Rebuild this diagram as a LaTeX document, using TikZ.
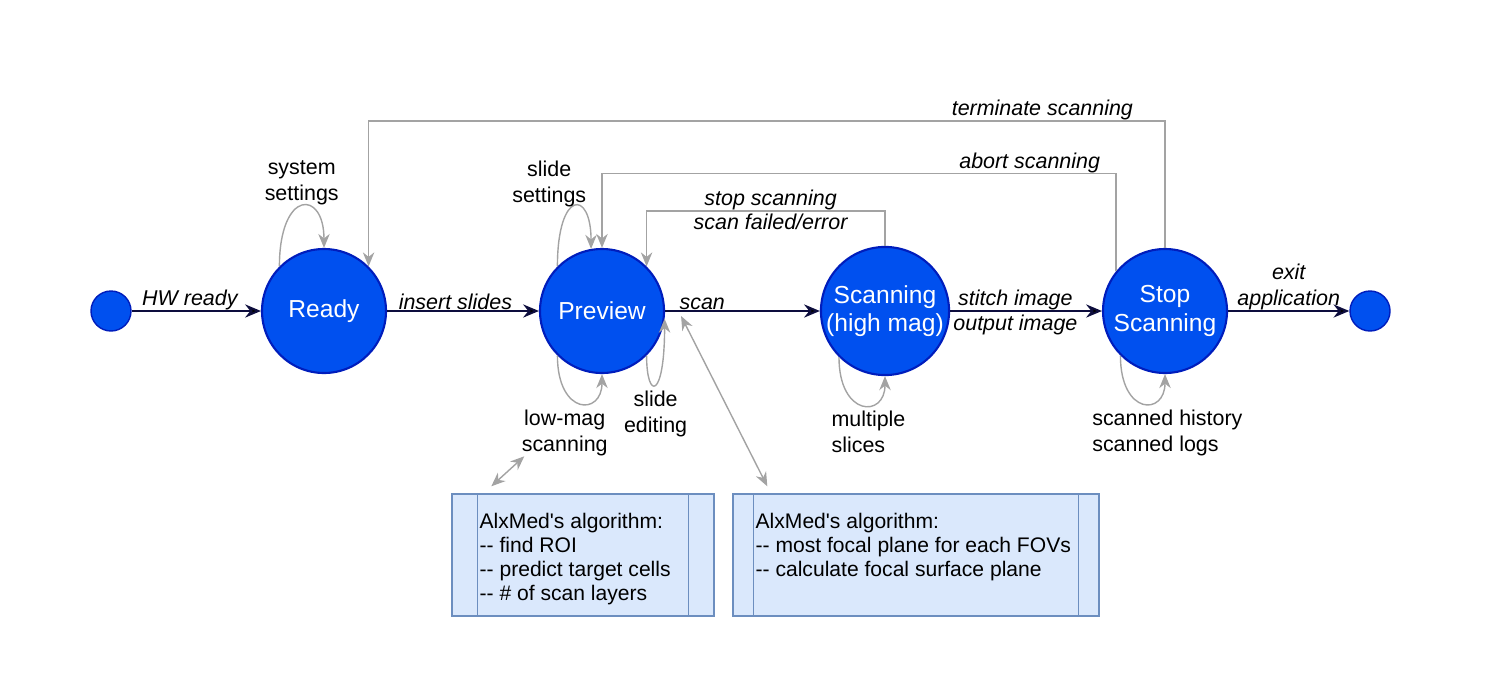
\documentclass[tikz,border=0pt]{standalone}
\usepackage{fontspec}
\setmainfont{Liberation Sans}
\usetikzlibrary{arrows.meta,automata,positioning}

\definecolor{stfill}{HTML}{0050EF}
\definecolor{stline}{HTML}{001DBC}
\definecolor{navy}{HTML}{0D0D3D}
\definecolor{loopgray}{HTML}{A3A3A3}
\definecolor{algfill}{HTML}{DAE8FC}
\definecolor{algline}{HTML}{6C8EBF}

\tikzset{
  trans/.style={draw=navy, line width=1.1pt, -{Stealth[length=9pt,width=7.5pt]}},
  back/.style={draw=loopgray, line width=0.8pt, -{Stealth[length=8pt,width=6.5pt]}},
  both/.style={draw=loopgray, line width=0.8pt, {Stealth[length=8pt,width=6.5pt]}-{Stealth[length=8pt,width=6.5pt]}},
  lbl/.style={font=\fontsize{12.2}{14.7}\selectfont\itshape, align=center, inner sep=1.5pt},
  abv/.style={above=-1.5pt},
  note/.style={font=\fontsize{12.2}{14.7}\selectfont, align=center},
  algbox/.style={rectangle, draw=algline, fill=algfill, line width=0.8pt, minimum height=2.44cm},
  alg/.style={font=\fontsize{12}{13.6}\selectfont, align=left, inner sep=0pt, anchor=north west}
}

\begin{document}
\begin{tikzpicture}[node distance=5.6cm,on grid]
  \tikzstyle{every state}=[fill=stfill, draw=stline, line width=1.2pt, minimum size=2.48cm,
                           inner sep=0pt, text=white, align=center, font=\fontsize{14}{16.2}\selectfont]
  \useasboundingbox (0,0) rectangle (30.12,-13.74);

  \node[state]                  (ready) at (6.48,-6.22)          {Ready};
  \node[state,minimum size=0.8cm,line width=0.8pt] (start) [left=4.26cm of ready] {};
  \node[state]                  (preview)  [right=5.56cm of ready]   {Preview};
  \node[state]                  (scanning) [right=5.66cm of preview] {Scanning\\(high mag)};
  \node[state]                  (stop)     [right=5.6cm of scanning] {Stop\\Scanning};
  \node[state,minimum size=0.8cm,line width=0.8pt] (end)   [right=4.1cm of stop] {};

  \node[algbox, minimum width=5.24cm] (box1) at (11.66,-11.10) {};
  \node[algbox, minimum width=7.32cm] (box2) at (18.32,-11.10) {};
  \foreach \b/\d in {box1/0.52, box2/0.42}{
    \draw[draw=algline, line width=0.8pt]
      ([xshift=\d cm]\b.north west) -- ([xshift=\d cm]\b.south west)
      ([xshift=-\d cm]\b.north east) -- ([xshift=-\d cm]\b.south east);
  }
  \node[alg] (alg1) at ([shift={(0.56,-0.40)}]box1.north west)
    {AlxMed\textquotesingle s algorithm:\\-{}- find ROI\\-{}- predict target cells\\-{}- \# of scan layers};
  \node[alg] (alg2) at ([shift={(0.46,-0.40)}]box2.north west)
    {AlxMed\textquotesingle s algorithm:\\-{}- most focal plane for each FOVs\\-{}- calculate focal surface plane};

  % main flow
  \path[trans]
  (start)    edge node[lbl,abv,pos=.45] {HW ready} (ready)
  (ready)    edge node[lbl,abv,pos=.45] {insert slides} (preview)
  (preview)  edge node[lbl,abv,pos=.24] {scan} (scanning)
  (scanning) edge node[lbl,abv,pos=.43] {stitch image} node[lbl,below,pos=.43] {output image} (stop)
  (stop)     edge node[lbl,abv] {exit\\application} (end);

  % going back
  \draw[back] (stop.north) -- ++(0,2.54) -| node[lbl,abv,pos=.077] {terminate scanning} (ready.45);
  \draw[back] (stop.141) -- ++(0,1.96) -| node[lbl,abv,pos=.084] {abort scanning} (preview.north);
  \draw[back] (scanning.north) -- ++(0,0.7) -| node[lbl,abv,pos=.24] {stop scanning}
                                                node[lbl,below,pos=.24] {scan failed/error} (preview.45);

  % self loops
  \draw[back] (ready.135) .. controls +(0,1.54) and +(0,1.18) .. (ready.north)
    node[note,above=-3pt,pos=.5] {system\\settings};
  \draw[back] (preview.135) .. controls +(0,1.54) and +(0,1.2) .. (preview.100)
    node[note,above=-4pt,pos=.5,xshift=-0.5cm] {slide\\settings};
  \draw[back] (preview.225) .. controls +(0,-1.2) and +(0,-0.84) .. (preview.south)
    node[note,below,pos=.5,xshift=-0.3cm] (lowmag) {low-mag\\scanning};
  \draw[back] (preview.-45) .. controls +(0,-0.9) and +(0,-1.62) .. (preview.-7)
    node[note,below,pos=.5] {slide\\editing};
  \draw[back] (scanning.225) .. controls +(0,-1.2) and +(0,-0.84) .. (scanning.south)
    node[note,align=left,anchor=north west,pos=.5,xshift=-0.74cm] {multiple\\slices};
  \draw[back] (stop.225) .. controls +(0,-1.2) and +(0,-0.84) .. (stop.south)
    node[note,align=left,anchor=north west,pos=.5,xshift=-1.14cm] {scanned history\\scanned logs};

  % links to the algorithms
  \draw[both] ([shift={(0.8,0.14)}]box1.north west) -- ([shift={(1.46,0.74)}]box1.north west);
  \draw[both] ([shift={(0.7,0.14)}]box2.north west) -- ([shift={(0.32,-0.1)}]preview.east);
\end{tikzpicture}
\end{document}
